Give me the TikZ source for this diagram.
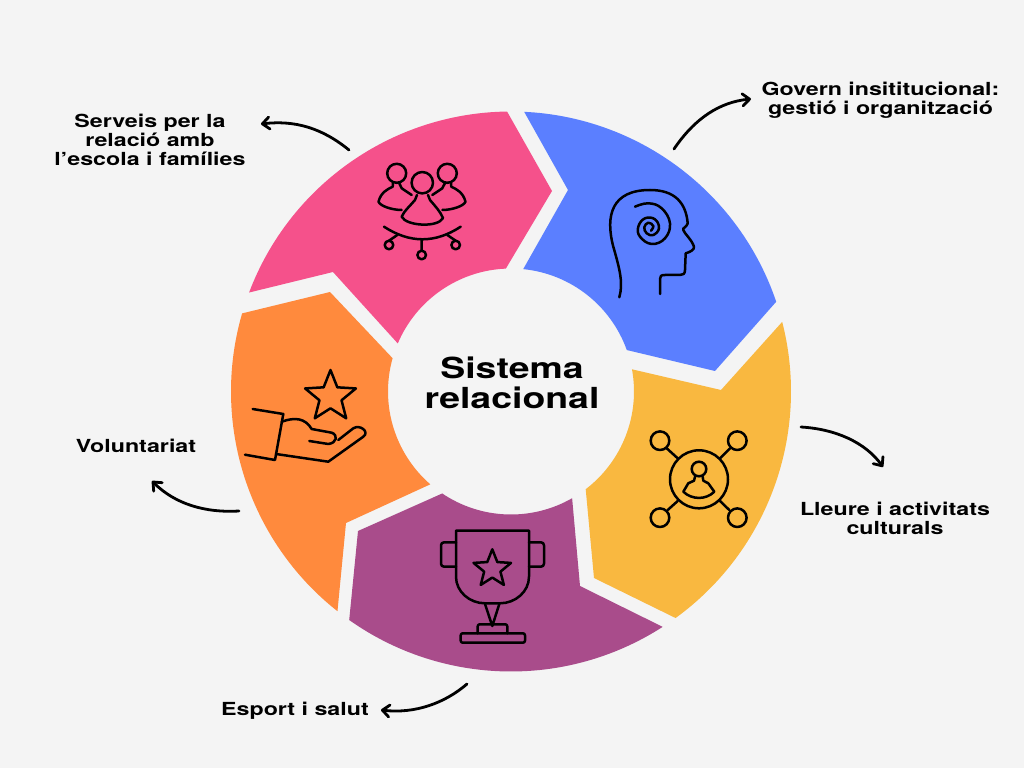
\documentclass[tikz,border=0pt]{standalone}
\usepackage{fontspec}
\setmainfont[FakeStretch=1.29]{TeX Gyre Heros}
\usetikzlibrary{arrows.meta,shapes.geometric}
\definecolor{bggray}{HTML}{F4F4F4}
\definecolor{govern}{HTML}{5B7FFF}
\definecolor{serveis}{HTML}{F5518B}
\definecolor{voluntari}{HTML}{FF8A3D}
\definecolor{esport}{HTML}{A94C8B}
\definecolor{lleure}{HTML}{F9B840}
\tikzset{
  pix/.style={shift={(-511,391.5)},yscale=-1},
  icon/.style={draw=black,line width=2.5pt,line cap=round,line join=round},
  bend arrow/.style={black,line width=2.8pt,line cap=round,-{Straight Barb[length=7pt,width=12pt,round]}},
  caption/.style={font=\fontsize{18}{19}\selectfont\bfseries,align=center,inner sep=0pt},
  starshape/.style={star,star points=5,star point ratio=2.3,icon,inner sep=0pt,outer sep=0pt}
}

\begin{document}
\begin{tikzpicture}[x=1pt,y=1pt]
  % Background
  \begin{scope}[pix]
    \fill[bggray] (0,0) rectangle (1024,768);
    \useasboundingbox (0,0) rectangle (1024,768);
  \end{scope}

  % Ring segments
  \fill[govern] (87.3:280) arc[start angle=87.3,end angle=18.7,radius=280] -- (204,20.5)
    -- (19.7:123) arc[start angle=19.7,end angle=84.3,radius=123] -- (57,201.5) -- cycle;
  \fill[serveis] (90.8:280) arc[start angle=90.8,end angle=159.3,radius=280] -- (-178,119.5)
    -- (157:123) arc[start angle=157,end angle=92.4,radius=123] -- (41,200.5) -- cycle;
  \fill[voluntari] (163.8:280) arc[start angle=163.8,end angle=231.7,radius=280] -- (-165,-131.5)
    -- (229:123) arc[start angle=229,end angle=164.3,radius=123] -- (-181,99.5) -- cycle;
  \fill[esport] (234.7:280) arc[start angle=234.7,end angle=302.8,radius=280] -- (69,-194.5)
    -- (299.8:123) arc[start angle=299.8,end angle=236,radius=123] -- (-153,-139.5) -- cycle;
  \fill[lleure] (306:280) arc[start angle=306,end angle=374.4,radius=280] -- (210,1.5)
    -- (10.4:123) arc[start angle=10.4,end angle=-52.6,radius=123] -- (83,-186.5) -- cycle;

  \begin{scope}[pix]
    % Labels
    \node[font=\fontsize{29}{30}\selectfont\bfseries,align=center,inner sep=0pt] (hub) at (512,383) {Sistema\\relacional};
    \node[caption] (governlabel) at (880.5,100) {Govern insititucional:\\gestió i organització};
    \node[caption] (serveislabel) at (150,139.5) {Serveis per la\\relació amb\\l’escola i famílies};
    \node[caption] (lleurelabel) at (895,518.5) {Lleure i activitats\\culturals};
    \node[caption] (voluntarilabel) at (136,446) {Voluntariat};
    \node[caption] (esportlabel) at (295,711) {Esport i salut};

    % Curved arrows
    \coordinate (governa) at (674,149);
    \coordinate (governb) at (751,99);
    \coordinate (serveisa) at (349,150);
    \coordinate (serveisb) at (261,124);
    \coordinate (lleurea) at (801,427);
    \coordinate (lleureb) at (883,467);
    \coordinate (voluntaria) at (239,511);
    \coordinate (voluntarib) at (152,481);
    \coordinate (esporta) at (467,684);
    \coordinate (esportb) at (381,710);
    \draw[bend arrow] (governa) .. controls (695,118) and (720,102) .. (governb);
    \draw[bend arrow] (serveisa) .. controls (322,128) and (295,120) .. (serveisb);
    \draw[bend arrow] (lleurea) .. controls (835,429) and (865,442) .. (lleureb);
    \draw[bend arrow] (voluntaria) .. controls (205,513) and (175,504) .. (voluntarib);
    \draw[bend arrow] (esporta) .. controls (445,703) and (415,714) .. (esportb);

    % Group icon
    \draw[icon] (396.7,173.3) circle (9.5);
    \draw[icon] (447.3,173.3) circle (9.5);
    \draw[icon] (422.3,182.7) circle (10.7);
    \draw[icon] (417,195) -- (415,200) .. controls (410,206) and (404,211) .. (401.7,216.7) .. controls (406,226) and (438,228) .. (443,218) .. controls (440,211) and (435,206) .. (430,200) -- (428,195);
    \draw[icon] (393,183) -- (392.7,186.7) .. controls (388,189) and (381,192) .. (378.5,201.7) .. controls (380,206) and (392,210) .. (401.7,210);
    \draw[icon] (399.3,183.3) -- (401.7,188.3) -- (411.7,195);
    \draw[icon] (451,183) -- (451.3,186.7) .. controls (456,189) and (463,192) .. (465.5,201.7) .. controls (464,206) and (452,210) .. (442.3,210);
    \draw[icon] (445,183) -- (442.3,188.3) -- (432.3,195);
    \draw[icon] (384,226.7) .. controls (410,243.5) and (435,243.5) .. (460.7,226.7);
    \draw[icon] (389,245) circle (4.3) (421.7,255) circle (4.3) (455.7,245) circle (4.3);
    \draw[icon] (389,240.7) -- (397.3,235) (421.7,250.7) -- (421.7,240) (455.7,240.7) -- (447.3,235);

    % Head icon
    \draw[icon] (619.3,297.3) .. controls (623.3,283.3) and (620,270) .. (613.3,246.7)
      .. controls (605,215) and (612,190) .. (650,190)
      .. controls (675,190) and (686,203) .. (687.7,223.3)
      .. controls (687,227) and (682,228) .. (683.3,230)
      .. controls (684,233) and (692,240) .. (694,246.7)
      .. controls (694.5,250) and (690,252) .. (685.7,253.3)
      -- (685,270) .. controls (685,274) and (683,275) .. (680,275)
      -- (665,275) .. controls (661,275) and (660,276) .. (660,279) -- (660,294);
    \draw[icon] plot[smooth,tension=0.7] coordinates {(635,206.7) (648.3,203.3) (661.7,208.3) (670,223.3) (665,238.3) (651.7,244) (640,236.7) (638.3,226.7) (645,218.3) (655,219.3) (659,228.3) (653.3,235) (646.7,233.3) (644.3,227.3) (648.3,222.7) (653.3,226) (651,230.7)};

    % Network icon
    \draw[icon] (699,479.3) circle (29);
    \draw[icon] (660,440.7) circle (9.3) (737.3,440.7) circle (9.3) (660,517.7) circle (9.3) (737.3,517.7) circle (9.3);
    \draw[icon] (666.7,448.3) -- (677.7,458.3) (730,448.3) -- (720,458.3) (667.7,510) -- (677.7,501) (729.3,510) -- (720,501);
    \draw[icon] (699,469) circle (7.3);
    \draw[icon] (695,476.7) -- (694,480.7) -- (688.3,483.3) -- (683.3,491.7) .. controls (692,500) and (706,500) .. (714.3,491.7) -- (708.3,483.3) -- (703.3,480.7) -- (702.7,476.7);

    % Trophy icon
    \draw[icon] (456,530.7) -- (529,530.7) -- (529,576.7) .. controls (529,592) and (515,603.3) .. (500,603.3) -- (485,603.3) .. controls (470,603.3) and (456,592) .. (456,576.7) -- cycle;
    \draw[icon,rounded corners=3pt] (456,542.3) -- (441,542.3) -- (441,566.7) -- (456,566.7);
    \draw[icon,rounded corners=3pt] (529,542.3) -- (544,542.3) -- (544,566.7) -- (529,566.7);
    \draw[icon] (485,604) -- (492.3,626) -- (499.3,604);
    \draw[icon,rounded corners=2pt] (477.7,633.3) -- (477.7,624.3) -- (507.3,624.3) -- (507.3,633.3);
    \draw[icon,rounded corners=2pt] (460.7,633.3) rectangle (525,642.7);
    \node[starshape,minimum size=39.4pt] (cupstar) at (492.3,569) {};

    % Hand icon
    \node[starshape,minimum size=53.4pt] (handstar) at (330.5,396.7) {};
    \draw[icon] (252.7,409) -- (283.3,414) -- (275,460) -- (245,454.7);
    \draw[icon] (276,454) -- (328.3,461.7) -- (363.3,436.7) .. controls (370,432) and (360,424) .. (353.3,428.3) -- (338.3,440);
    \draw[icon] (281.7,421.7) .. controls (295,417) and (305,418) .. (311.7,429) -- (331.7,432.7) .. controls (338.3,435) and (337,443) .. (328.3,444) -- (309.3,441);
  \end{scope}
\end{tikzpicture}
\end{document}
